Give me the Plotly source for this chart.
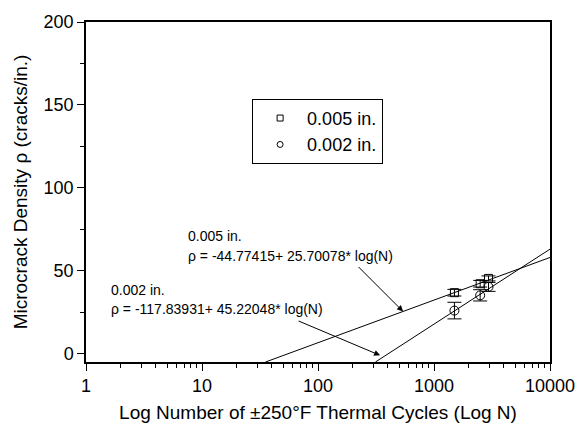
import numpy as np
import plotly.graph_objects as go

# Data
cycles_005 = [1500, 2500, 2950]
rho_005 = [36.8, 42.2, 45.4]
err_005 = [2.0, 2.0, 1.5]

cycles_002 = [1500, 2500, 2950]
rho_002 = [26.0, 35.2, 40.3]
err_002 = [5.0, 3.4, 2.7]

# Fit coefficients (rho = a + b*log10(N))
fit_005 = (-44.77415, 25.70078)
fit_002 = (-117.83931, 45.22048)
fit_005_N = [35.3, 10000]
fit_002_N = [313, 10000]

series_names = ["0.005 in.", "0.002 in."]

def fit_vals(coef, ns):
    return [coef[0] + coef[1] * np.log10(n) for n in ns]

FONT = "Liberation Sans, Arial, sans-serif"

fig = go.Figure()

fig.add_trace(go.Scatter(x=fit_005_N, y=fit_vals(fit_005, fit_005_N), mode="lines",
                         line=dict(color="black", width=1), showlegend=False, hoverinfo="skip"))
fig.add_trace(go.Scatter(x=fit_002_N, y=fit_vals(fit_002, fit_002_N), mode="lines",
                         line=dict(color="black", width=1), showlegend=False, hoverinfo="skip"))

fig.add_trace(go.Scatter(x=cycles_005, y=rho_005, mode="markers", showlegend=False,
                         marker=dict(symbol="square-open", size=8, color="black", line=dict(width=1)),
                         error_y=dict(type="data", array=err_005, color="black", thickness=1, width=7)))
fig.add_trace(go.Scatter(x=cycles_002, y=rho_002, mode="markers", showlegend=False,
                         marker=dict(symbol="circle-open", size=9, color="black", line=dict(width=1)),
                         error_y=dict(type="data", array=err_002, color="black", thickness=1, width=7)))

# legend entries (smaller symbols, as in the original legend)
fig.add_trace(go.Scatter(x=[None], y=[None], mode="markers", name=series_names[0],
                         marker=dict(symbol="square-open", size=6, color="black", line=dict(width=1))))
fig.add_trace(go.Scatter(x=[None], y=[None], mode="markers", name=series_names[1],
                         marker=dict(symbol="circle-open", size=6, color="black", line=dict(width=1))))

ann_font = dict(family=FONT, size=14, color="black")
annotations = [
    dict(x=0.216, y=70.8, xref="paper", yref="y", text="0.005 in.", showarrow=False,
         xanchor="left", yanchor="middle", font=ann_font),
    dict(x=0.216, y=59.0, xref="paper", yref="y", text="ρ = -44.77415+ 25.70078* log(N)", showarrow=False,
         xanchor="left", yanchor="middle", font=ann_font),
    dict(x=0.05, y=38.5, xref="paper", yref="y", text="0.002 in.", showarrow=False,
         xanchor="left", yanchor="middle", font=ann_font),
    dict(x=0.05, y=26.7, xref="paper", yref="y", text="ρ = -117.83931+ 45.22048* log(N)", showarrow=False,
         xanchor="left", yanchor="middle", font=ann_font),
    dict(x=np.log10(541), y=fit_vals(fit_005, [541])[0], xref="x", yref="y", text="",
         showarrow=True, arrowhead=2, arrowsize=1.2, arrowwidth=1, arrowcolor="black",
         ax=-46, ay=-46, standoff=0),
    dict(x=np.log10(343), y=-1.0, xref="x", yref="y", text="",
         showarrow=True, arrowhead=2, arrowsize=1.2, arrowwidth=1, arrowcolor="black",
         ax=-83, ay=-35, standoff=0),
]

fig.update_layout(
    width=588, height=432,
    margin=dict(l=86, r=38, t=15, b=68),
    paper_bgcolor="white", plot_bgcolor="white",
    font=dict(family=FONT, size=18, color="black"),
    annotations=annotations,
    legend=dict(x=0.358, y=0.774, xanchor="left", yanchor="top",
                bordercolor="black", borderwidth=1, bgcolor="white",
                font=dict(family=FONT, size=18), itemwidth=44,
                tracegroupgap=0),
    xaxis=dict(type="log", range=[0, 4], showline=True, linecolor="black", linewidth=1.5,
               mirror=True, ticks="outside", ticklen=7, tickwidth=1.2, tickcolor="black",
               tickvals=[1, 10, 100, 1000, 10000], ticktext=["1", "10", "100", "1000", "10000"],
               tickfont=dict(size=18),
               minor=dict(ticks="outside", ticklen=4, tickcolor="black",
                          tickvals=[m * 10 ** d for d in range(4) for m in range(2, 10)]),
               showgrid=False, zeroline=False,
               title=dict(text="Log Number of ±250°F Thermal Cycles (Log N)", font=dict(size=19), standoff=10)),
    yaxis=dict(range=[-5, 200], showline=True, linecolor="black", linewidth=1.5,
               mirror=True, ticks="outside", ticklen=7, tickwidth=1.2, tickcolor="black",
               tickvals=[0, 50, 100, 150, 200], tickfont=dict(size=18),
               minor=dict(ticks="outside", ticklen=4, tickcolor="black", tickvals=[25, 75, 125, 175]),
               showgrid=False, zeroline=False,
               title=dict(text="Microcrack Density ρ (cracks/in.)", font=dict(size=19), standoff=11)),
)

fig.write_html("out.html")
